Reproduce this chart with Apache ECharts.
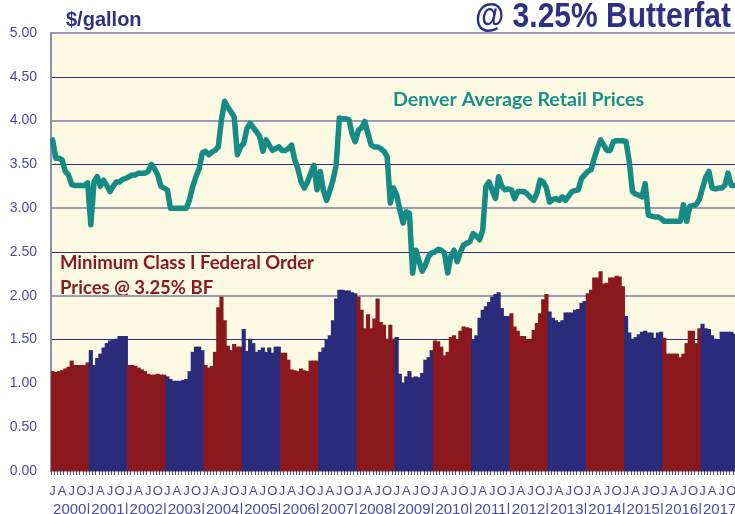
<!DOCTYPE html>
<html>
<head>
<meta charset="utf-8">
<script src="https://cdn.jsdelivr.net/npm/echarts@6/dist/echarts.min.js"></script>
<style>
  html, body { margin: 0; padding: 0; background: #fff; }
  #main { width: 735px; height: 514px; }
</style>
</head>
<body>
<div id="main"></div>
<script>
// years shown on the axis, one block of 12 monthly bars per year
var years = [2000, 2001, 2002, 2003, 2004, 2005, 2006, 2007, 2008,
  2009, 2010, 2011, 2012, 2013, 2014, 2015, 2016, 2017];
var quarterLetters = ['J', 'A', 'J', 'O'];

// Denver average retail prices, $/gallon, monthly from Jan 2000
var retailPrices = [
  3.78, 3.57, 3.57, 3.55, 3.42, 3.38, 3.27, 3.26, 3.26, 3.26, 3.26, 3.29,
  2.81, 3.30, 3.36, 3.25, 3.32, 3.26, 3.19, 3.25, 3.30, 3.30, 3.33, 3.34,
  3.36, 3.38, 3.38, 3.40, 3.40, 3.40, 3.42, 3.50, 3.45, 3.38, 3.25, 3.23,
  3.21, 3.00, 3.00, 3.00, 3.00, 3.00, 3.00, 3.10, 3.25, 3.36, 3.45, 3.63,
  3.65, 3.61, 3.64, 3.66, 3.70, 4.01, 4.22, 4.15, 4.10, 4.04, 3.61, 3.70,
  3.74, 3.91, 3.97, 3.92, 3.87, 3.82, 3.65, 3.78, 3.72, 3.66, 3.68, 3.70,
  3.66, 3.66, 3.68, 3.72, 3.55, 3.45, 3.30, 3.23, 3.30, 3.40, 3.49, 3.21,
  3.42, 3.20, 3.09, 3.20, 3.32, 3.49, 4.03, 4.02, 4.02, 4.01, 3.85, 3.76,
  3.89, 3.92, 3.99, 3.85, 3.72, 3.70, 3.70, 3.68, 3.65, 3.59, 3.06, 3.23,
  3.15, 2.98, 2.83, 2.96, 2.94, 2.26, 2.52, 2.40, 2.28, 2.35, 2.45, 2.49,
  2.50, 2.53, 2.52, 2.49, 2.26, 2.45, 2.52, 2.39, 2.50, 2.58, 2.60, 2.62,
  2.71, 2.68, 2.64, 2.75, 3.25, 3.30, 3.20, 3.11, 3.36, 3.25, 3.21, 3.22,
  3.21, 3.11, 3.19, 3.19, 3.19, 3.16, 3.12, 3.09, 3.17, 3.32, 3.30, 3.23,
  3.07, 3.10, 3.11, 3.09, 3.13, 3.09, 3.14, 3.19, 3.20, 3.21, 3.34, 3.38,
  3.42, 3.44, 3.57, 3.68, 3.78, 3.72, 3.66, 3.66, 3.76, 3.77, 3.77, 3.77,
  3.76, 3.53, 3.19, 3.16, 3.15, 3.13, 3.28, 2.92, 2.91, 2.90, 2.90, 2.88,
  2.85, 2.85, 2.85, 2.85, 2.85, 2.85, 3.04, 2.85, 3.02, 3.03, 3.04, 3.10,
  3.23, 3.35, 3.42, 3.23, 3.22, 3.23, 3.23, 3.26, 3.40, 3.26, 3.26
];

// minimum Class I federal order prices @ 3.25% BF, monthly from Jan 2000
var classIPrices = [
  1.14, 1.13, 1.14, 1.15, 1.17, 1.19, 1.26, 1.21, 1.21, 1.21, 1.21, 1.24,
  1.38, 1.21, 1.29, 1.34, 1.41, 1.46, 1.49, 1.50, 1.51, 1.54, 1.54, 1.54,
  1.21, 1.21, 1.20, 1.18, 1.16, 1.14, 1.11, 1.10, 1.10, 1.11, 1.10, 1.10,
  1.08, 1.05, 1.03, 1.03, 1.03, 1.04, 1.05, 1.14, 1.36, 1.42, 1.42, 1.38,
  1.21, 1.18, 1.20, 1.36, 1.87, 1.99, 1.72, 1.43, 1.38, 1.45, 1.42, 1.42,
  1.62, 1.37, 1.51, 1.46, 1.36, 1.38, 1.41, 1.36, 1.41, 1.35, 1.42, 1.42,
  1.35, 1.35, 1.27, 1.16, 1.15, 1.14, 1.17, 1.15, 1.14, 1.26, 1.26, 1.26,
  1.36, 1.41, 1.50, 1.55, 1.72, 1.97, 2.07, 2.07, 2.06, 2.06, 2.04, 2.03,
  1.99, 1.84, 1.63, 1.79, 1.63, 1.74, 1.97, 1.70, 1.67, 1.51, 1.67, 1.51,
  1.53, 1.11, 1.01, 1.08, 1.14, 1.07, 1.08, 1.07, 1.12, 1.27, 1.30, 1.38,
  1.49, 1.48, 1.42, 1.32, 1.36, 1.53, 1.55, 1.50, 1.60, 1.65, 1.64, 1.63,
  1.50, 1.55, 1.75, 1.84, 1.88, 1.93, 1.99, 2.02, 2.04, 1.86, 1.77, 1.77,
  1.80, 1.65, 1.60, 1.54, 1.54, 1.50, 1.51, 1.61, 1.69, 1.80, 1.96, 2.02,
  1.82, 1.75, 1.72, 1.70, 1.72, 1.81, 1.81, 1.81, 1.84, 1.85, 1.92, 1.94,
  2.03, 2.07, 2.21, 2.21, 2.28, 2.14, 2.15, 2.21, 2.21, 2.23, 2.22, 2.11,
  1.77, 1.58, 1.51, 1.53, 1.56, 1.59, 1.60, 1.58, 1.58, 1.52, 1.58, 1.59,
  1.52, 1.34, 1.34, 1.34, 1.34, 1.30, 1.34, 1.46, 1.60, 1.60, 1.46, 1.63,
  1.68, 1.63, 1.62, 1.55, 1.51, 1.50, 1.59, 1.59, 1.59, 1.59, 1.57
];

var redColor = '#8a181c';
var blueColor = '#2a2c7b';
var axisTextColor = '#4a4aa0';

// one category per month
var months = [];
years.forEach(function (y) {
  for (var m = 1; m <= 12; m++) {
    months.push(y + '-' + (m < 10 ? '0' + m : m));
  }
});
months = months.slice(0, classIPrices.length);

// even years red, odd years blue
function yearColor(i) {
  return Math.floor(i / 12) % 2 === 0 ? redColor : blueColor;
}
var barData = classIPrices.map(function (v, i) {
  return { value: v, itemStyle: { color: yearColor(i) } };
});

var chart = echarts.init(document.getElementById('main'), null, { renderer: 'canvas' });

var option = {
  backgroundColor: '#ffffff',
  animation: false,
  grid: {
    left: 51,
    right: -1,
    top: 33,
    bottom: 43,
    containLabel: false,
    outerBoundsMode: 'none',
    show: true,
    backgroundColor: '#fbf9e2',
    borderWidth: 0
  },
  xAxis: [
    {
      type: 'category',
      data: months,
      boundaryGap: true,
      axisLine: { show: false },
      axisTick: {
        show: true,
        interval: 0,
        length: 4,
        lineStyle: { color: '#555566', width: 1 }
      },
      axisLabel: {
        interval: 0,
        margin: 14,
        color: axisTextColor,
        fontFamily: 'Liberation Sans',
        fontSize: 13,
        formatter: function (val, i) {
          return i % 3 === 0 ? quarterLetters[(i % 12) / 3] : '';
        }
      },
      splitLine: { show: false }
    },
    {
      type: 'category',
      data: months,
      position: 'bottom',
      boundaryGap: true,
      axisLine: { show: false },
      axisTick: { show: false },
      axisLabel: {
        interval: 0,
        margin: 31,
        color: axisTextColor,
        fontFamily: 'Liberation Sans',
        fontSize: 15,
        formatter: function (val, i) {
          return i % 12 === 6 ? val.slice(0, 4) + '|' : '';
        }
      },
      splitLine: { show: false }
    }
  ],
  yAxis: [
    {
      // half-dollar lines, navy
      type: 'value',
      min: 0,
      max: 5,
      interval: 0.5,
      axisLine: { show: true, lineStyle: { color: '#8c8cb4', width: 2 } },
      axisTick: { show: false },
      axisLabel: {
        margin: 14,
        color: axisTextColor,
        fontFamily: 'Liberation Sans',
        fontSize: 14,
        formatter: function (v) { return v.toFixed(2); }
      },
      splitLine: { show: true, lineStyle: { color: '#2b2d80', width: 1.2 } }
    },
    {
      // whole-dollar lines, grey, drawn over the navy ones
      type: 'value',
      position: 'left',
      min: 0,
      max: 5,
      interval: 1,
      axisLine: { show: false },
      axisTick: { show: false },
      axisLabel: { show: false },
      splitLine: { show: true, lineStyle: { color: '#9a9aba', width: 2 } }
    }
  ],
  graphic: [
    {
      type: 'text',
      x: 66,
      y: 20,
      style: {
        text: '$/gallon',
        font: 'bold 20px "Liberation Sans"',
        fill: '#2e3084',
        align: 'left',
        verticalAlign: 'middle'
      }
    },
    {
      type: 'text',
      x: 731,
      y: 17,
      scaleY: 1.18,
      style: {
        text: '@ 3.25% Butterfat',
        font: 'bold 30px "Liberation Sans"',
        fill: '#2e3084',
        align: 'right',
        verticalAlign: 'middle'
      }
    },
    {
      type: 'text',
      x: 393,
      y: 100,
      style: {
        text: 'Denver Average Retail Prices',
        font: 'bold 19.6px Lato',
        fill: '#1b8f8a',
        align: 'left',
        verticalAlign: 'middle'
      }
    },
    {
      type: 'text',
      x: 60,
      y: 263,
      style: {
        text: 'Minimum Class I Federal Order',
        font: 'bold 18.5px Lato',
        fill: redColor,
        align: 'left',
        verticalAlign: 'middle'
      }
    },
    {
      type: 'text',
      x: 60,
      y: 288,
      style: {
        text: 'Prices @ 3.25% BF',
        font: 'bold 18.5px Lato',
        fill: redColor,
        align: 'left',
        verticalAlign: 'middle'
      }
    }
  ],
  series: [
    {
      name: 'Minimum Class I',
      type: 'bar',
      data: barData,
      barWidth: '130%',
      z: 2
    },
    {
      name: 'Denver Retail',
      type: 'line',
      data: retailPrices,
      symbol: 'none',
      smooth: false,
      lineStyle: { color: '#168a84', width: 5.5, join: 'round', cap: 'round' },
      z: 3
    }
  ]
};

chart.setOption(option);
</script>
</body>
</html>
